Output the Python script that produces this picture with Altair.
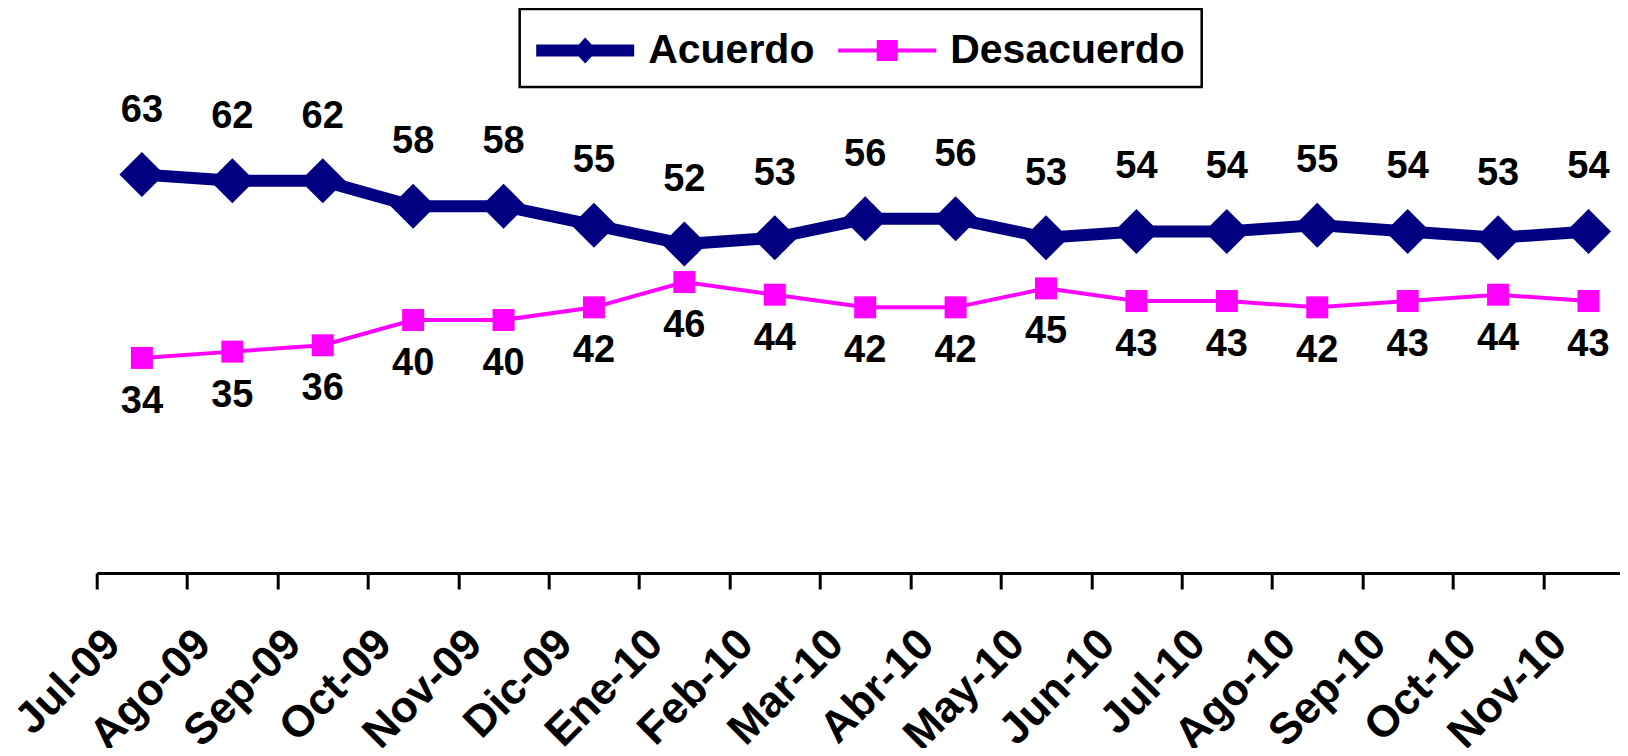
import altair as alt
import pandas as pd

months = ["Jul-09", "Ago-09", "Sep-09", "Oct-09", "Nov-09", "Dic-09", "Ene-10", "Feb-10",
          "Mar-10", "Abr-10", "May-10", "Jun-10", "Jul-10", "Ago-10", "Sep-10", "Oct-10", "Nov-10"]
acuerdo = [63, 62, 62, 58, 58, 55, 52, 53, 56, 56, 53, 54, 54, 55, 54, 53, 54]
desacuerdo = [34, 35, 36, 40, 40, 42, 46, 44, 42, 42, 45, 43, 43, 42, 43, 44, 43]
series = ["Acuerdo", "Desacuerdo"]

rows = []
for m, v in zip(months, acuerdo):
    rows.append({"mes": m, "valor": v, "serie": "Acuerdo"})
for m, v in zip(months, desacuerdo):
    rows.append({"mes": m, "valor": v, "serie": "Desacuerdo"})
df = pd.DataFrame(rows)

FONT = "Liberation Sans"
NAVY = "#000080"
MAGENTA = "#FF00FF"

xscale = alt.Scale(type="band", domain=months, range=[0, 1537], paddingInner=0, paddingOuter=0)
yscale = alt.Scale(domain=[0, 80], nice=False, zero=True)

xenc = alt.X("mes:N", scale=xscale, sort=months,
             axis=alt.Axis(title=None, tickBand="extent", labelAngle=-45, labelAlign="right",
                           labelBaseline="middle", labelFont=FONT, labelFontSize=44,
                           labelFontWeight="bold", labelColor="black", labelOffset=-29,
                           labelPadding=48, tickSize=16, tickWidth=3, tickColor="black",
                           domainColor="black", domainWidth=3, labelOverlap=False,
                           labelFlush=False, labelLimit=400, grid=False))
yenc = alt.Y("valor:Q", scale=yscale, axis=None)

base = alt.Chart(df).encode(x=xenc, y=yenc)

a = base.transform_filter(alt.datum.serie == "Acuerdo")
d = base.transform_filter(alt.datum.serie == "Desacuerdo")

a_line = a.mark_line(color=NAVY, strokeWidth=12)
a_pts = a.mark_point(shape="diamond", filled=True, color=NAVY, size=2025, opacity=1)
a_txt = a.mark_text(font=FONT, fontSize=38, fontWeight="bold", color="black",
                    baseline="alphabetic", dy=-53).encode(text="valor:Q")

d_line = d.mark_line(color=MAGENTA, strokeWidth=4)
d_pts = d.mark_point(shape="square", filled=True, color=MAGENTA, size=484, opacity=1)
d_txt = d.mark_text(font=FONT, fontSize=38, fontWeight="bold", color="black",
                    baseline="alphabetic", dy=55).encode(text="valor:Q")

acuerdo_sym = ("M-1.96,-0.24H1.96V0.24H-1.96Z "
               "M0,-0.52L0.48,0L0,0.52L-0.48,0Z")
desacuerdo_sym = ("M-1.96,-0.08H1.96V0.08H-1.96Z "
                  "M-0.42,-0.42H0.42V0.42H-0.42Z")

legend_layer = alt.Chart(df).transform_filter("false").mark_point(filled=True, size=10, opacity=1).encode(
    x=xenc, y=yenc,
    color=alt.Color("serie:N", scale=alt.Scale(domain=series, range=[NAVY, MAGENTA]),
                    legend=alt.Legend(title=None, orient="none", legendX=423, legendY=-58,
                                      direction="horizontal", symbolSize=2500,
                                      symbolStrokeWidth=0, symbolOffset=24, symbolOpacity=1,
                                      labelFont=FONT, labelFontSize=41, labelFontWeight="bold",
                                      labelColor="black", labelOffset=38, columnPadding=23,
                                      padding=16.5, strokeColor="black",
                                      labelLimit=400)),
    shape=alt.Shape("serie:N", scale=alt.Scale(domain=series, range=[acuerdo_sym, desacuerdo_sym])),
)

chart = alt.layer(d_line, a_line, d_pts, a_pts, a_txt, d_txt, legend_layer).properties(
    width=1523, height=506,
    background="white",
    autosize=alt.AutoSizeParams(type="none"),
    padding={"left": 88.7, "top": 59, "right": 0, "bottom": 175},
).configure_view(strokeWidth=0).configure_legend(strokeWidth=2.5)

chart.save("out.html", embed_options={"renderer": "svg", "actions": False})
